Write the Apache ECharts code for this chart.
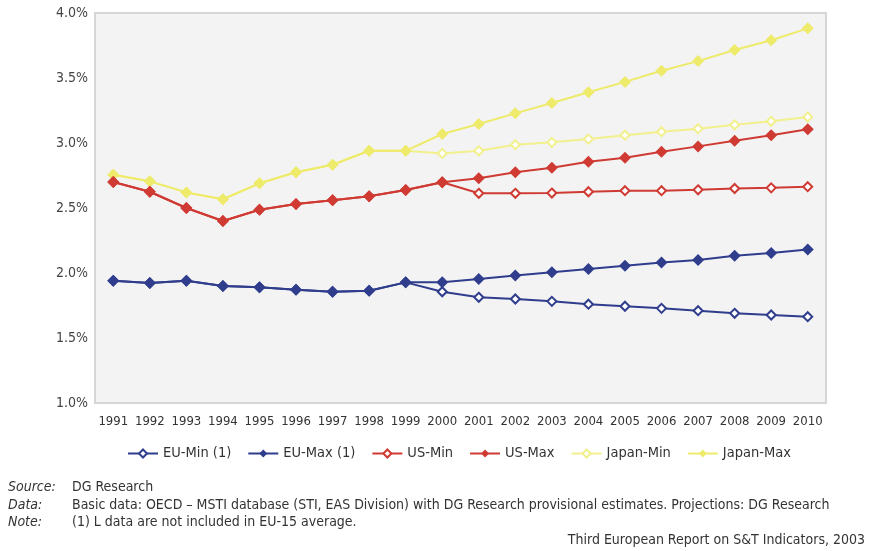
<!DOCTYPE html>
<html>
<head>
<meta charset="utf-8">
<script src="https://cdn.jsdelivr.net/npm/echarts@6/dist/echarts.min.js"></script>
<style>
html,body{margin:0;padding:0;background:#fff;}
#chart{width:873px;height:551px;}
</style>
</head>
<body>
<div id="chart"></div>
<script>
const years = ['1991','1992','1993','1994','1995','1996','1997','1998','1999','2000','2001','2002','2003','2004','2005','2006','2007','2008','2009','2010'];
const euMin   = [1.94,1.923,1.94,1.90,1.89,1.872,1.856,1.864,1.928,1.856,1.813,1.80,1.782,1.76,1.744,1.728,1.71,1.69,1.677,1.664];
const euMax   = [1.94,1.923,1.94,1.90,1.89,1.872,1.856,1.864,1.928,1.928,1.954,1.98,2.005,2.03,2.056,2.08,2.10,2.133,2.154,2.18];
const usMin   = [2.70,2.625,2.50,2.40,2.487,2.53,2.56,2.59,2.638,2.698,2.613,2.613,2.615,2.625,2.633,2.633,2.64,2.65,2.655,2.664];
const usMax   = [2.70,2.625,2.50,2.40,2.487,2.53,2.56,2.59,2.638,2.698,2.728,2.775,2.81,2.856,2.887,2.933,2.974,3.018,3.06,3.105];
const japMin  = [2.756,2.705,2.62,2.567,2.69,2.775,2.833,2.94,2.94,2.92,2.94,2.987,3.005,3.03,3.06,3.087,3.11,3.14,3.167,3.20];
const japMax  = [2.756,2.705,2.62,2.567,2.69,2.775,2.833,2.94,2.94,3.069,3.146,3.228,3.308,3.39,3.47,3.556,3.63,3.715,3.79,3.882];
const seriesNames = ['EU-Min (1)','EU-Max (1)','US-Min','US-Max','Japan-Min','Japan-Max'];
const footLabels = ['Source:','Data:','Note:'];
const footTexts = ['DG Research','Basic data: OECD \u2013 MSTI database (STI, EAS Division) with DG Research provisional estimates. Projections: DG Research','(1) L data are not included in EU-15 average.'];
const credit = 'Third European Report on S&T Indicators, 2003';

const BLUE = '#2f3d8c', RED = '#cf3a33', YEL = '#eeea6a', YEL2 = '#f2f08c';
const FONT = "'Liberation Sans Narrow','DejaVu Sans Condensed',sans-serif";

function mk(name, data, color, empty) {
  return {
    name: name, type: 'line', data: data,
    symbol: empty ? 'emptyDiamond' : 'diamond',
    symbolSize: empty ? 9 : 12,
    lineStyle: {color: color, width: 2},
    itemStyle: {color: color, borderColor: color, borderWidth: empty ? 2 : 0},
    emphasis: {disabled: true},
    animation: false
  };
}

const chart = echarts.init(document.getElementById('chart'));
const footGraphics = [];
const footY = [488, 506, 523];
footLabels.forEach((l, i) => {
  footGraphics.push({type:'text', left: 8, top: footY[i]-8, style:{text:l, font:"italic 14px "+FONT, fill:'#333'}});
  footGraphics.push({type:'text', left: 72, top: footY[i]-8, style:{text:footTexts[i], font:"14px "+FONT, fill:'#333'}});
});
footGraphics.push({type:'text', right: 8, top: 533, style:{text:credit, font:"14px "+FONT, fill:'#333'}});

chart.setOption({
  backgroundColor: '#fff',
  animation: false,
  grid: {left: 95, top: 13, right: 47, bottom: 148, show: true, backgroundColor: '#f3f3f3', borderColor: '#d6d6d6', borderWidth: 2},
  xAxis: {
    type: 'category', data: years, boundaryGap: true,
    axisLine: {show: false}, axisTick: {show: false},
    axisLabel: {color: '#333', fontFamily: FONT, fontSize: 13, margin: 12, interval: 0}
  },
  yAxis: {
    type: 'value', min: 1, max: 4, interval: 0.5,
    axisLine: {show: false}, axisTick: {show: false}, splitLine: {show: false},
    axisLabel: {color: '#444', fontFamily: FONT, fontSize: 14, margin: 7, formatter: v => v.toFixed(1) + '%'}
  },
  legend: {
    data: seriesNames, left: 122, top: 441, itemWidth: 30, itemHeight: 10, itemGap: 16,
    textStyle: {color: '#333', fontFamily: FONT, fontSize: 14.5}
  },
  graphic: footGraphics,
  series: [
    mk(seriesNames[4], japMin, YEL2, true),
    mk(seriesNames[5], japMax, YEL, false),
    mk(seriesNames[2], usMin, RED, true),
    mk(seriesNames[3], usMax, RED, false),
    mk(seriesNames[0], euMin, BLUE, true),
    mk(seriesNames[1], euMax, BLUE, false)
  ]
});
</script>
</body>
</html>
